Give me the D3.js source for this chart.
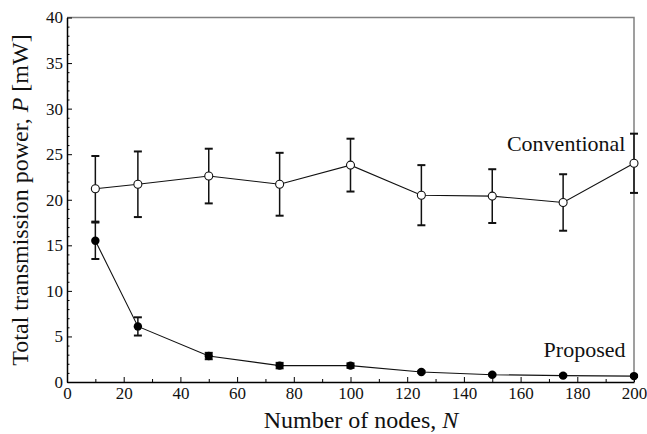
<!DOCTYPE html>
<html>
<head>
<meta charset="utf-8">
<script src="https://cdn.jsdelivr.net/npm/d3@7"></script>
<style>
    html, body { margin: 0; padding: 0; background: #fff; }
    svg { display: block; }
    svg text { font-family: 'Liberation Serif', 'Times New Roman', serif; }
</style>
</head>
<body>
<div id="chart"></div>
<script>
// Data
const nodes = [10, 25, 50, 75, 100, 125, 150, 175, 200];
const convMean = [21.2, 21.7, 22.6, 21.7, 23.8, 20.5, 20.4, 19.7, 24.0];
const convErr = [3.6, 3.6, 3.0, 3.45, 2.9, 3.3, 2.95, 3.1, 3.25];
const propMean = [15.5, 6.1, 2.85, 1.8, 1.8, 1.1, 0.8, 0.7, 0.65];
const propErr = [2.0, 1.0, 0.35, 0.3, 0.25, 0.12, 0.1, 0.1, 0.1];
const xTicks = [0, 20, 40, 60, 80, 100, 120, 140, 160, 180, 200];
const yTicks = [0, 5, 10, 15, 20, 25, 30, 35, 40];

const width = 647, height = 434;
const margin = { top: 17.5, right: 13, bottom: 52, left: 67 };
const w = width - margin.left - margin.right;
const h = height - margin.top - margin.bottom;
const serif = "'Liberation Serif', 'Times New Roman', serif";

const svg = d3.select('#chart').append('svg')
    .attr('width', width)
    .attr('height', height);

const g = svg.append('g').attr('transform', `translate(${margin.left},${margin.top})`);

const x = d3.scaleLinear().domain([0, 200]).range([0, w]);
const y = d3.scaleLinear().domain([0, 40]).range([h, 0]);

// Frame (top & right, grey)
g.append('path')
    .attr('d', `M0,0H${w}V${h}`)
    .attr('fill', 'none')
    .attr('stroke', '#808080')
    .attr('stroke-width', 1.5);

// Minor ticks
g.append('g')
    .attr('transform', `translate(0,${h})`)
    .call(d3.axisBottom(x).tickValues(d3.range(10, 200, 20)).tickSizeInner(-3).tickSizeOuter(0).tickFormat(''))
    .call(a => a.select('.domain').remove());
g.append('g')
    .call(d3.axisLeft(y).tickValues(d3.range(1, 40).filter(v => v % 5)).tickSizeInner(-2.5).tickSizeOuter(0).tickFormat(''))
    .call(a => a.select('.domain').remove());

// Major axes
const xAxis = g.append('g')
    .attr('transform', `translate(0,${h})`)
    .call(d3.axisBottom(x).tickValues(xTicks).tickSizeInner(-5).tickSizeOuter(0).tickPadding(5));
const yAxis = g.append('g')
    .call(d3.axisLeft(y).tickValues(yTicks).tickSizeInner(-5).tickSizeOuter(0).tickPadding(4));

[xAxis, yAxis].forEach(a => {
    a.attr('font-family', serif).attr('font-size', 17);
    a.select('.domain').attr('stroke', '#000').attr('stroke-width', 1.5);
    a.selectAll('.tick line').attr('stroke', '#000').attr('stroke-width', 1);
    a.selectAll('.tick text').attr('fill', '#111')
        .style('font-family', serif).style('font-size', '17px');
});

// Error bars
function errorBars(mean, err, cls) {
    const data = nodes.map((n, i) => ({ n, m: mean[i], e: err[i] }));
    const eg = g.append('g').attr('class', cls)
        .attr('stroke', '#111').attr('fill', 'none');
    eg.selectAll('line.v').data(data).enter().append('line')
        .attr('class', 'v')
        .attr('x1', d => x(d.n)).attr('x2', d => x(d.n))
        .attr('y1', d => y(d.m - d.e)).attr('y2', d => y(d.m + d.e))
        .attr('stroke-width', 1.5);
    ['lo', 'hi'].forEach(k => {
        eg.selectAll('line.' + k).data(data).enter().append('line')
            .attr('class', k)
            .attr('x1', d => x(d.n) - 4).attr('x2', d => x(d.n) + 4)
            .attr('y1', d => y(k === 'lo' ? d.m - d.e : d.m + d.e))
            .attr('y2', d => y(k === 'lo' ? d.m - d.e : d.m + d.e))
            .attr('stroke-width', 2);
    });
}
errorBars(convMean, convErr, 'conv-err');
errorBars(propMean, propErr, 'prop-err');

// Lines
const line = d3.line().x(d => x(d[0])).y(d => y(d[1]));
[convMean, propMean].forEach(m => {
    g.append('path')
        .datum(nodes.map((n, i) => [n, m[i]]))
        .attr('d', line)
        .attr('fill', 'none')
        .attr('stroke', '#111')
        .attr('stroke-width', 1.1);
});

// Markers
g.selectAll('.conv-pt').data(nodes.map((n, i) => [n, convMean[i]])).enter().append('circle')
    .attr('class', 'conv-pt')
    .attr('cx', d => x(d[0])).attr('cy', d => y(d[1]))
    .attr('r', 4)
    .attr('fill', '#fff').attr('stroke', '#111').attr('stroke-width', 1.1);
g.selectAll('.prop-pt').data(nodes.map((n, i) => [n, propMean[i]])).enter().append('circle')
    .attr('class', 'prop-pt')
    .attr('cx', d => x(d[0])).attr('cy', d => y(d[1]))
    .attr('r', 4.2)
    .attr('fill', '#000');

// Series labels
g.append('text')
    .attr('x', x(197)).attr('y', y(25.3))
    .attr('text-anchor', 'end')
    .style('font-family', serif).style('font-size', '22px').attr('fill', '#111')
    .text('Conventional');
g.append('text')
    .attr('x', x(197)).attr('y', y(2.7))
    .attr('text-anchor', 'end')
    .style('font-family', serif).style('font-size', '22px').attr('fill', '#111')
    .text('Proposed');

// Axis titles
const xt = svg.append('text')
    .attr('x', 361).attr('y', 428)
    .attr('text-anchor', 'middle')
    .style('font-family', serif).style('font-size', '24px').attr('fill', '#111');
xt.append('tspan').text('Number of nodes, ');
xt.append('tspan').style('font-style', 'italic').text('N');

const yt = svg.append('text')
    .attr('transform', `translate(28,200) rotate(-90)`)
    .attr('text-anchor', 'middle')
    .style('font-family', serif).style('font-size', '24px').attr('fill', '#111');
yt.append('tspan').text('Total transmission power, ');
yt.append('tspan').style('font-style', 'italic').text('P');
yt.append('tspan').text(' [mW]');
</script>
</body>
</html>
